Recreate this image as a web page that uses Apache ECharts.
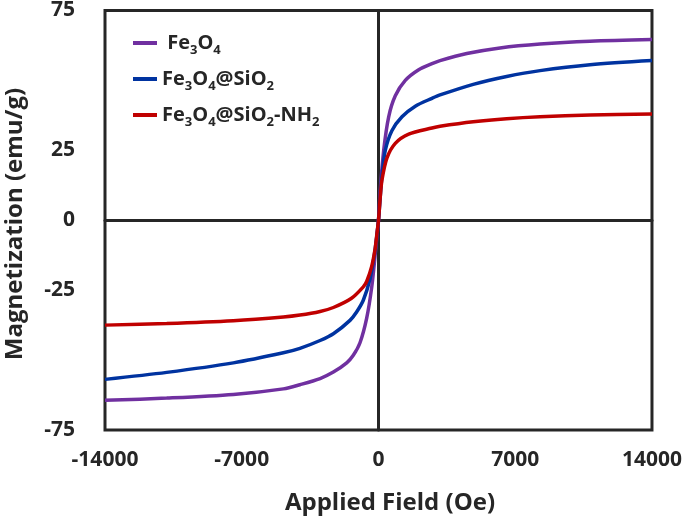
<!DOCTYPE html>
<html>
<head>
<meta charset="utf-8">
<script src="https://cdn.jsdelivr.net/npm/echarts@6/dist/echarts.min.js"></script>
<style>
html,body{margin:0;padding:0;background:#fff;}
#chart{width:685px;height:518px;}
</style>
</head>
<body>
<div id="chart"></div>
<script>
// ---- data ----
const seriesNames = [' Fe3O4', 'Fe3O4@SiO2', 'Fe3O4@SiO2-NH2'];

const fe3o4Field = [-14000,-10840,-7430,-4870,-4020,-2990,-2310,-1628,-1290,-947,-604,-348,-179,-92,0,92,266,522,860,1372,2058,2740,3150,4520,6220,8270,10830,14000];
const fe3o4M     = [-64.4,-63.6,-62.3,-60.3,-58.8,-56.6,-54.3,-51.0,-48.3,-43.8,-35.0,-24.0,-13.0,-6.5,0,11,25,37,44.5,50.0,53.8,56.0,57.1,59.6,61.6,63.0,64.0,64.6];

const silicaField = [-14000,-10840,-7430,-4870,-4020,-2990,-2310,-1459,-1120,-778,-435,-215,-92,0,92,180,348,691,1203,1884,2740,3150,4850,6560,8270,10830,14000];
const silicaM     = [-56.9,-54.4,-51.0,-47.4,-45.8,-43.0,-40.6,-35.8,-32.8,-28.6,-21.0,-12.5,-6.0,0,8.5,16,25,32.1,37.0,40.8,43.6,44.8,48.6,51.4,53.5,55.6,57.1];

const amineField = [-14000,-10840,-7430,-4870,-4020,-2990,-2310,-1400,-778,-600,-348,-179,-92,0,92,180,435,860,1546,2740,3150,4850,6560,8270,10830,14000];
const amineM     = [-37.5,-36.9,-35.9,-34.6,-33.9,-32.6,-31.2,-28.0,-23.8,-21.8,-16.5,-10.5,-5.5,0,8.5,14.5,22.3,27.5,30.8,33.0,33.6,35.2,36.3,37.0,37.6,38.0];

const xTickValues = [-14000,-7000,0,7000,14000];
const yTickLabels = [75,25,0,-25,-75];

const xTitle = 'Applied Field (Oe)';
const yTitle = 'Magnetization (emu/g)';

// ---- build ----
const colors = ['#7030A0', '#0033A0', '#C00000'];
const fields = [fe3o4Field, silicaField, amineField];
const mags = [fe3o4M, silicaM, amineM];
const FONT = '"Open Sans", "DejaVu Sans", sans-serif';
const TXT = '#262626';

function pairs(xs, ys){ return xs.map((x,i)=>[x, ys[i]]); }

function richName(name){
  let out = '';
  for (const ch of name){
    if (/[0-9]/.test(ch)) out += '{s|' + ch + '}';
    else out += '{n|' + ch + '}';
  }
  return out;
}

const chart = echarts.init(document.getElementById('chart'), null, {renderer:'canvas'});

const option = {
  animation: false,
  backgroundColor: '#ffffff',
  grid: {
    left: 105, right: 33, top: 10, bottom: 88,
    show: true, borderColor: TXT, borderWidth: 3, backgroundColor: 'transparent'
  },
  legend: {
    orient: 'vertical',
    left: 128, top: 28,
    itemGap: 12,
    itemWidth: 24, itemHeight: 4,
    icon: 'rect',
    data: seriesNames,
    formatter: richName,
    textStyle: {
      color: TXT,
      rich: {
        n: {fontFamily: FONT, fontWeight: 'bold', fontSize: 20, color: TXT, lineHeight: 28, verticalAlign: 'middle'},
        s: {fontFamily: FONT, fontWeight: 'bold', fontSize: 13, color: TXT, lineHeight: 28, verticalAlign: 'bottom'}
      }
    }
  },
  xAxis: [
    {
      type: 'value', min: -14000, max: 14000, interval: 7000,
      axisLine: {show: false}, axisTick: {show: false}, splitLine: {show: false},
      axisLabel: {
        show: true, margin: 20, color: TXT, fontFamily: FONT, fontWeight: 'bold', fontSize: 21,
        showMinLabel: true, showMaxLabel: true,
        formatter: v => xTickValues.includes(v) ? String(v) : ''
      }
    },
    {
      type: 'value', min: -14000, max: 14000, position: 'bottom',
      axisLine: {show: true, onZero: true, lineStyle: {color: TXT, width: 3}},
      axisTick: {show: false}, axisLabel: {show: false}, splitLine: {show: false}
    }
  ],
  yAxis: [
    {
      type: 'value', min: -75, max: 75, interval: 25,
      axisLine: {show: false}, axisTick: {show: false}, splitLine: {show: false},
      axisLabel: {
        show: true, margin: 30, color: TXT, fontFamily: FONT, fontWeight: 'bold', fontSize: 21,
        showMinLabel: true, showMaxLabel: true,
        formatter: v => yTickLabels.includes(v) ? String(v) : ''
      }
    },
    {
      type: 'value', min: -75, max: 75, position: 'left',
      axisLine: {show: true, onZero: true, lineStyle: {color: TXT, width: 3}},
      axisTick: {show: false}, axisLabel: {show: false}, splitLine: {show: false}
    }
  ],
  graphic: [
    {
      type: 'text',
      position: [390, 503],
      style: {text: xTitle, fill: TXT, font: 'bold 24px ' + FONT, textAlign: 'center', textVerticalAlign: 'middle'}
    },
    {
      type: 'text',
      rotation: Math.PI/2,
      position: [15, 224],
      style: {text: yTitle, fill: TXT, font: 'bold 24px ' + FONT, textAlign: 'center', textVerticalAlign: 'middle'}
    }
  ],
  series: seriesNames.map((name, i) => ({
    name: name,
    type: 'line',
    xAxisIndex: 0, yAxisIndex: 0,
    data: pairs(fields[i], mags[i]),
    showSymbol: false, symbol: 'none',
    smooth: 0.3,
    lineStyle: {color: colors[i], width: 3.5},
    itemStyle: {color: colors[i]},
    z: 5
  }))
};

chart.setOption(option);
</script>
</body>
</html>
